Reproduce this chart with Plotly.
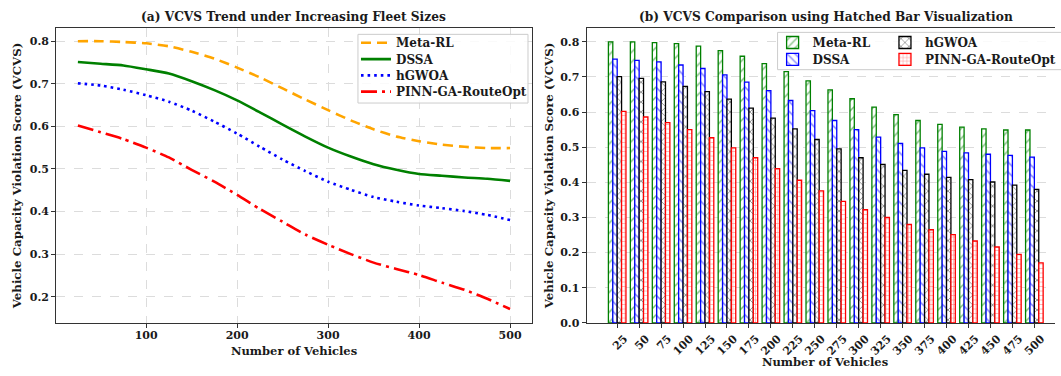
import plotly.graph_objects as go

vehicles = [25, 50, 75, 100, 125, 150, 175, 200, 225, 250, 275, 300, 325, 350, 375, 400, 425, 450, 475, 500]
meta_rl = [0.800, 0.800, 0.798, 0.795, 0.788, 0.775, 0.759, 0.738, 0.715, 0.689, 0.663, 0.638, 0.614, 0.593, 0.576, 0.565, 0.557, 0.552, 0.549, 0.549]
dssa = [0.751, 0.747, 0.743, 0.734, 0.724, 0.706, 0.685, 0.661, 0.633, 0.604, 0.576, 0.550, 0.529, 0.511, 0.498, 0.488, 0.484, 0.480, 0.477, 0.472]
hgwoa = [0.701, 0.696, 0.686, 0.673, 0.658, 0.637, 0.611, 0.583, 0.552, 0.522, 0.495, 0.470, 0.451, 0.434, 0.423, 0.414, 0.408, 0.401, 0.392, 0.380]
pinn = [0.602, 0.586, 0.570, 0.550, 0.527, 0.498, 0.470, 0.439, 0.406, 0.376, 0.346, 0.322, 0.300, 0.280, 0.265, 0.251, 0.233, 0.216, 0.195, 0.171]
categories = [str(v) for v in vehicles]
names = ["Meta-RL", "DSSA", "hGWOA", "PINN-GA-RouteOpt"]

W, H = 1061, 376
FONT = "DejaVu Serif"
TXT = "#1a1a1a"

def px_x(p):
    return p / W

def px_y(p):
    return (H - p) / H

fig = go.Figure()

# left panel: lines, one legend per entry for exact row spacing
line_styles = [
    ("#FFA500", "10px,6px", meta_rl),
    ("#008000", "solid", dssa),
    ("#0000FF", "2.6px,4px", hgwoa),
    ("#FF0000", "16px,5px,3px,5px", pinn),
]
left_rows = [43.5, 60.2, 76.8, 93.4]
legend_defs = {}
for i, (name, (col, dash, vals)) in enumerate(zip(names, line_styles)):
    lg = "legend" if i == 0 else f"legend{i + 1}"
    fig.add_trace(go.Scatter(
        x=vehicles, y=vals, mode="lines", name=name, showlegend=True,
        line=dict(color=col, dash=dash, width=2.6, shape="spline", smoothing=0.6),
        xaxis="x", yaxis="y", legend=lg,
    ))
    legend_defs[lg] = dict(x=px_x(358), y=px_y(left_rows[i]))

# right panel: hatched bars
bar_styles = [
    ("#008000", "/", 7, meta_rl, (777, 43.3)),
    ("#0000FF", "\\", 7, dssa, (777, 60.5)),
    ("#000000", "x", 7, hgwoa, (890, 43.3)),
    ("#FF0000", "+", 4.5, pinn, (890, 60.5)),
]
for i, (name, (col, shape, sz, vals, pos)) in enumerate(zip(names, bar_styles)):
    lg = f"legend{i + 5}"
    fig.add_trace(go.Bar(
        x=categories, y=vals, name=name, showlegend=True,
        marker=dict(color="white", line=dict(color=col, width=1.3),
                    pattern=dict(shape=shape, fgcolor=col, bgcolor="white", size=sz, solidity=0.22)),
        xaxis="x2", yaxis="y2", legend=lg,
    ))
    legend_defs[lg] = dict(x=px_x(pos[0]), y=px_y(pos[1]))

tickfont = dict(family=FONT, size=11, color=TXT, weight="bold")
axis_common = dict(showline=True, linecolor="#333333", linewidth=1.2,
                   ticks="outside", ticklen=4, tickcolor="#333333", tickfont=tickfont,
                   zeroline=False)
grid = dict(gridcolor="#dcdcdc", griddash="dash", gridwidth=1)

y_dom = [px_y(329), px_y(28.3)]

legend_font = dict(family=FONT, size=12, color=TXT, weight="bold")
for lg, d in legend_defs.items():
    d.update(xanchor="left", yanchor="middle", bgcolor="rgba(0,0,0,0)", borderwidth=0,
             font=legend_font, itemclick=False, visible=True)

fig.update_layout(
    width=W, height=H,
    showlegend=True,
    margin=dict(l=0, r=0, t=0, b=0),
    plot_bgcolor="white", paper_bgcolor="white",
    barmode="group", bargap=0.2, bargroupgap=0.0,
    xaxis=dict(domain=[px_x(56.6), px_x(534.7)], range=[1.25, 523.75],
               tickvals=[100, 200, 300, 400, 500], showgrid=True, mirror=True,
               ticklabelstandoff=-2, **grid, **axis_common, anchor="y"),
    yaxis=dict(domain=y_dom, range=[0.1385, 0.8315],
               tickvals=[0.2, 0.3, 0.4, 0.5, 0.6, 0.7, 0.8], tickformat=".1f",
               showgrid=True, mirror=True, **grid, **axis_common, anchor="x"),
    xaxis2=dict(domain=[px_x(590), 1.0], range=[-1.39, 19.94], type="category",
                tickangle=-45, showgrid=False, ticklabelshift=7, mirror=True,
                **axis_common, anchor="y2"),
    yaxis2=dict(domain=y_dom, range=[0, 0.84],
                tickvals=[0.0, 0.1, 0.2, 0.3, 0.4, 0.5, 0.6, 0.7, 0.8], tickformat=".1f",
                showgrid=True, mirror=False, **grid, **axis_common, anchor="x2"),
    shapes=[
        dict(type="rect", xref="paper", yref="paper",
             x0=px_x(360), x1=px_x(531), y0=px_y(105), y1=px_y(35),
             line=dict(color="#cccccc", width=1), fillcolor="rgba(255,255,255,0.85)",
             layer="above"),
        dict(type="rect", xref="paper", yref="paper",
             x0=px_x(782), x1=1.05, y0=px_y(71), y1=px_y(33),
             line=dict(color="#cccccc", width=1), fillcolor="rgba(255,255,255,0.85)",
             layer="above"),
    ],
    **legend_defs,
)

ann_font = dict(family=FONT, color=TXT, weight="bold")
annotations = [
    dict(text="(a) VCVS Trend under Increasing Fleet Sizes", x=px_x(295.5), y=px_y(17),
         font=dict(size=12.2, **ann_font)),
    dict(text="(b) VCVS Comparison using Hatched Bar Visualization", x=px_x(830.5), y=px_y(17),
         font=dict(size=12.2, **ann_font)),
    dict(text="Number of Vehicles", x=px_x(295.5), y=px_y(357.5), font=dict(size=11.5, **ann_font)),
    dict(text="Number of Vehicles", x=px_x(830), y=px_y(369), font=dict(size=11.5, **ann_font)),
    dict(text="Vehicle Capacity Violation Score (VCVS)", x=px_x(17), y=px_y(178.7),
         textangle=-90, font=dict(size=11.8, **ann_font)),
    dict(text="Vehicle Capacity Violation Score (VCVS)", x=px_x(553), y=px_y(178.7),
         textangle=-90, font=dict(size=11.8, **ann_font)),
]
for a in annotations:
    a.update(xref="paper", yref="paper", showarrow=False, xanchor="center", yanchor="middle")
fig.update_layout(annotations=annotations)

fig.write_html("out.html", config={"displayModeBar": False},
               post_script="document.body.style.margin='0px';document.body.style.padding='0px';")
